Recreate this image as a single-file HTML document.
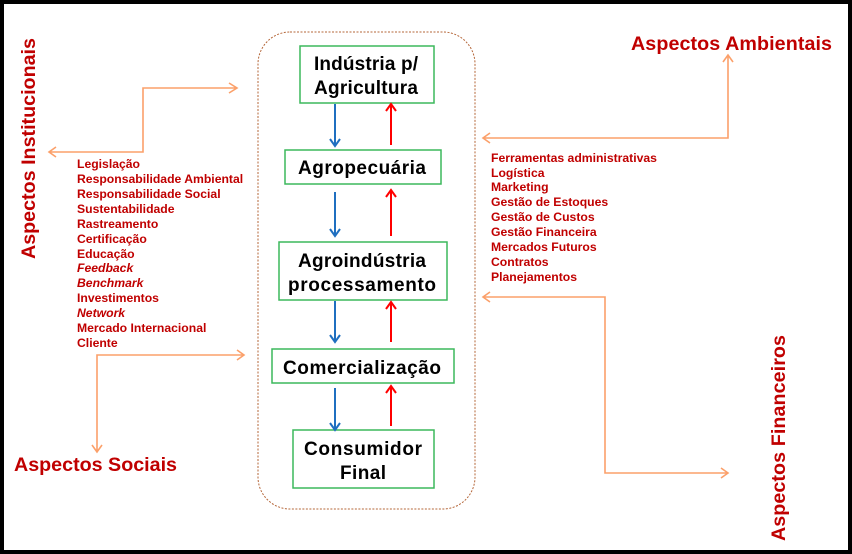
<!DOCTYPE html>
<html><head><meta charset="utf-8"><style>
html,body{margin:0;padding:0;background:#fff}
svg{display:block}
text{font-family:"Liberation Sans",Arial,sans-serif;font-weight:bold}
.l{font-size:12.2px;fill:#c00000}
.h{font-size:19.7px;fill:#c00000}
.b{font-size:19px;fill:#000;text-anchor:middle}
</style></head><body>
<svg width="852" height="554" viewBox="0 0 852 554" xmlns="http://www.w3.org/2000/svg">
<rect x="2" y="2" width="848" height="550" fill="#fff" stroke="#000" stroke-width="4"/>
<rect x="258" y="32" width="217" height="477" rx="32" fill="none" stroke="#b5673a" stroke-width="1" stroke-dasharray="2,1.5"/>
<g fill="#fff" stroke="#3cb85c" stroke-width="1.5">
<rect x="300" y="46" width="134" height="57"/>
<rect x="285" y="150" width="156" height="34"/>
<rect x="279" y="242" width="168" height="58"/>
<rect x="272" y="349" width="182" height="34"/>
<rect x="293" y="430" width="141" height="58"/>
</g>
<text class="b" x="366" y="70" textLength="104">Indústria p/</text>
<text class="b" x="366" y="94" textLength="104">Agricultura</text>
<text class="b" x="362" y="174" textLength="128">Agropecuária</text>
<text class="b" x="362" y="267" textLength="128">Agroindústria</text>
<text class="b" x="362" y="291" textLength="148">processamento</text>
<text class="b" x="362" y="374" textLength="158">Comercialização</text>
<text class="b" x="363" y="455" textLength="118">Consumidor</text>
<text class="b" x="363" y="479" textLength="46">Final</text>
<g stroke="#1f6fc0" stroke-width="2" fill="none">
<path d="M335 104V145M330 139L335 146L340 139"/>
<path d="M335 192V236M330 229L335 236L340 229"/>
<path d="M335 301V342M330 335L335 342L340 335"/>
<path d="M335 388V430M330 423L335 430L340 423"/>
</g>
<g stroke="#ff0000" stroke-width="2" fill="none">
<path d="M391 145V104M386 111L391 104L396 111"/>
<path d="M391 236V190M386 197L391 190L396 197"/>
<path d="M391 342V302M386 309L391 302L396 309"/>
<path d="M391 426V386M386 393L391 386L396 393"/>
</g>
<g stroke="#fba06a" stroke-width="1.6" fill="none">
<path d="M49 152H143V88H236M229 83L237 88L229 93M56 147L49 152L56 157"/>
<path d="M483 138H728V55M723 62L728 55L733 62M490 133L483 138L490 143"/>
<path d="M483 297H605V473H728M721 468L728 473L721 478M490 292L483 297L490 302"/>
<path d="M244 355H97V452M92 445L97 452L102 445M237 350L244 355L237 360"/>
</g>
<text class="h" transform="translate(35,259) rotate(-90)" textLength="221">Aspectos Institucionais</text>
<text class="h" transform="translate(785,541) rotate(-90)" textLength="206">Aspectos Financeiros</text>
<text class="h" x="631" y="50" textLength="201">Aspectos Ambientais</text>
<text class="h" x="14" y="471" textLength="163">Aspectos Sociais</text>
<g class="l">
<text class="l" x="77" y="168">Legislação</text>
<text class="l" x="77" y="183">Responsabilidade Ambiental</text>
<text class="l" x="77" y="198">Responsabilidade Social</text>
<text class="l" x="77" y="213">Sustentabilidade</text>
<text class="l" x="77" y="228">Rastreamento</text>
<text class="l" x="77" y="243">Certificação</text>
<text class="l" x="77" y="258">Educação</text>
<text class="l" x="77" y="272" font-style="italic">Feedback</text>
<text class="l" x="77" y="287" font-style="italic">Benchmark</text>
<text class="l" x="77" y="302">Investimentos</text>
<text class="l" x="77" y="317" font-style="italic">Network</text>
<text class="l" x="77" y="332">Mercado Internacional</text>
<text class="l" x="77" y="347">Cliente</text>
<text class="l" x="491" y="162">Ferramentas administrativas</text>
<text class="l" x="491" y="177">Logística</text>
<text class="l" x="491" y="191">Marketing</text>
<text class="l" x="491" y="206">Gestão de Estoques</text>
<text class="l" x="491" y="221">Gestão de Custos</text>
<text class="l" x="491" y="236">Gestão Financeira</text>
<text class="l" x="491" y="251">Mercados Futuros</text>
<text class="l" x="491" y="266">Contratos</text>
<text class="l" x="491" y="281">Planejamentos</text>
</g>
</svg>
</body></html>
